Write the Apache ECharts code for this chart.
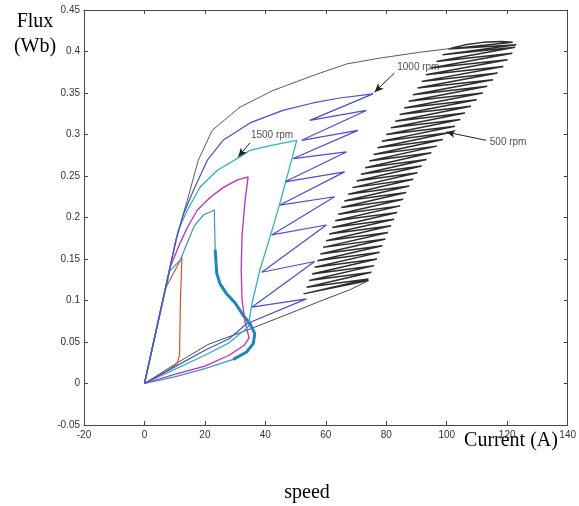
<!DOCTYPE html>
<html>
<head>
<meta charset="utf-8">
<script src="https://cdn.jsdelivr.net/npm/echarts/dist/echarts.min.js"></script>
<style>
  body { margin: 0; background: #fff; }
  #chart { width: 579px; height: 506px; }
</style>
</head>
<body>
<div id="chart"></div>
<script>
// axis ticks
var xTicks = [-20, 0, 20, 40, 60, 80, 100, 120, 140];
var yTicks = [-0.05, 0, 0.05, 0.1, 0.15, 0.2, 0.25, 0.3, 0.35, 0.4, 0.45];

// 500 rpm (black): lower line, hatched chopping band, tip, return arc
var lower500 = [[0, 0], [10, 0.023], [21, 0.047], [33, 0.063], [45, 0.080], [58, 0.099], [68, 0.113], [74.1, 0.124]];
var bandLeft500 = [[52.6, 0.108], [53.6, 0.116], [54.5, 0.124], [55.4, 0.132], [56.3, 0.140], [57.2, 0.148],
  [58.2, 0.156], [59.1, 0.164], [60.1, 0.172], [61.1, 0.180], [62.1, 0.188], [63.1, 0.196], [64.1, 0.204],
  [65.1, 0.212], [66.1, 0.220], [67.4, 0.228], [68.8, 0.236], [70.2, 0.244], [71.6, 0.252], [73.0, 0.260],
  [74.4, 0.268], [75.8, 0.276], [77.1, 0.284], [78.5, 0.292], [80.0, 0.300], [81.5, 0.308], [83.0, 0.316],
  [84.4, 0.324], [85.9, 0.332], [87.4, 0.340], [88.8, 0.348], [90.3, 0.356], [91.7, 0.364], [93.1, 0.372],
  [94.7, 0.380], [96.6, 0.388], [98.6, 0.396], [100.5, 0.403]];
var bandRight500 = [[74.1, 0.126], [75.1, 0.134], [76.0, 0.142], [76.9, 0.150], [77.8, 0.158], [78.7, 0.166],
  [79.7, 0.174], [80.6, 0.182], [81.6, 0.190], [82.6, 0.198], [83.6, 0.206], [84.6, 0.214], [85.6, 0.222],
  [86.6, 0.230], [87.6, 0.238], [88.9, 0.246], [90.3, 0.254], [91.7, 0.262], [93.3, 0.270], [94.9, 0.278],
  [96.7, 0.286], [98.7, 0.294], [100.7, 0.302], [102.7, 0.310], [104.5, 0.318], [106.0, 0.326], [108.0, 0.334],
  [109.9, 0.342], [111.9, 0.350], [113.4, 0.358], [115.3, 0.366], [116.8, 0.374], [118.7, 0.382], [120.1, 0.390],
  [121.7, 0.398], [122.6, 0.405], [123.0, 0.408], [121.8, 0.411]];
var tip500 = [[118, 0.412], [112, 0.411], [106, 0.408], [101.5, 0.404]];
var arc500 = [[101.5, 0.404], [99.8, 0.403], [90.9, 0.399], [77.8, 0.392], [66.9, 0.385], [55.7, 0.371], [42.5, 0.353],
  [31.6, 0.333], [22.4, 0.305], [17.8, 0.269], [14.2, 0.221], [10.5, 0.175], [0, 0]];

// 1000 rpm (blue)
var lower1000 = [[0, 0], [10, 0.020], [20, 0.040], [28, 0.054]];
var zigLeft1000 = [[33.8, 0.072], [35.5, 0.092], [38.8, 0.134], [42.1, 0.179], [44.8, 0.215], [46.5, 0.243],
  [49.2, 0.271], [52.0, 0.293], [54.7, 0.317]];
var zigRight1000 = [[53.6, 0.102], [56.3, 0.147], [60.2, 0.191], [62.9, 0.225], [66.2, 0.255], [66.8, 0.279],
  [70.6, 0.305], [73.4, 0.329], [75.6, 0.349]];
var arc1000 = [[64.6, 0.344], [55.7, 0.338], [45.8, 0.329], [34.9, 0.314], [26.0, 0.293], [20.8, 0.269],
  [16.1, 0.232], [12.9, 0.204], [10.5, 0.173], [0, 0]];

// 1500 rpm (cyan)
var lower1500 = [[0, 0], [10, 0.017], [20, 0.034], [28, 0.049], [34.3, 0.068]];
var rise1500 = [[35.6, 0.097], [38.2, 0.137], [41.5, 0.176], [44.8, 0.217], [50.4, 0.293]];
var arc1500 = [[42.0, 0.287], [34.9, 0.281], [31.6, 0.273], [24.1, 0.257], [18.5, 0.237], [14.2, 0.209],
  [11.2, 0.185], [0, 0]];

// magenta
var lowerMag = [[0, 0], [10, 0.011], [20, 0.021], [28, 0.034], [33, 0.046], [34.6, 0.055]];
var riseMag = [[33.3, 0.074], [32.3, 0.100], [32.0, 0.137], [32.3, 0.179], [33.3, 0.221], [34.3, 0.249]];
var arcMag = [[30.6, 0.245], [26.0, 0.236], [21.7, 0.224], [17.5, 0.209], [14.2, 0.188], [11.5, 0.167],
  [8.4, 0.139], [0, 0]];

// teal (thick bulge)
var lowerTeal = [[0, 0], [10, 0.008], [20, 0.018], [29.4, 0.029], [33.8, 0.038], [36.0, 0.048], [36.5, 0.060]];
var riseTeal = [[34.9, 0.072], [32.7, 0.082], [30.0, 0.097], [27.2, 0.108], [25.0, 0.120], [23.9, 0.133],
  [23.4, 0.161], [23.1, 0.209]];
var arcTeal = [[19.5, 0.203], [16.5, 0.190], [14.1, 0.169], [11.9, 0.149], [8.3, 0.135], [0, 0]];

// orange
var orangeLoop = [[0, 0], [7.9, 0.016], [10.8, 0.024], [11.6, 0.034], [11.9, 0.100], [12.4, 0.152], [7.0, 0.115], [0, 0]];

// annotations
var labelNames = ['1000 rpm', '1500 rpm', '500 rpm'];
var labelPos = [[90.6, 0.381], [42.2, 0.299], [120.3, 0.291]];
var arrowFrom = [[82.7, 0.374], [34.9, 0.290], [113.0, 0.293]];
var arrowTo = [[76.1, 0.351], [31.0, 0.273], [99.8, 0.303]];

function zigzag(a, b) {
  var out = [];
  for (var i = 0; i < a.length; i++) {
    out.push(a[i]);
    out.push(b[i]);
  }
  return out;
}

var band500 = [lower500[lower500.length - 1]].concat(zigzag(bandLeft500, bandRight500), tip500);
var path1000 = lower1000.concat(zigzag(zigLeft1000, zigRight1000), arc1000);
var path1500 = lower1500.concat(rise1500, arc1500);
var pathMag = lowerMag.concat(riseMag, arcMag);
var pathTeal = lowerTeal.concat(riseTeal, arcTeal);
var thickTeal = lowerTeal.slice(3).concat(riseTeal.slice(0, 7));

function lineSeries(name, data, color, width) {
  return {
    name: name,
    type: 'line',
    data: data,
    symbol: 'none',
    smooth: false,
    silent: true,
    lineStyle: { color: color, width: width }
  };
}

var axisColor = '#474747';
var labelFont = { fontSize: 10, color: '#333', fontFamily: 'Liberation Sans' };

var option = {
  animation: false,
  backgroundColor: '#fff',
  grid: { left: 84, right: 10, top: 10, bottom: 81 },
  xAxis: [{
    type: 'value', min: xTicks[0], max: xTicks[xTicks.length - 1], interval: 20,
    axisLine: { onZero: false, lineStyle: { color: axisColor } },
    axisTick: { inside: true, length: 4, lineStyle: { color: axisColor } },
    axisLabel: Object.assign({ margin: 5 }, labelFont),
    splitLine: { show: false }
  }, {
    type: 'value', position: 'top', min: xTicks[0], max: xTicks[xTicks.length - 1], interval: 20,
    axisLine: { onZero: false, lineStyle: { color: axisColor } },
    axisTick: { inside: true, length: 4, lineStyle: { color: axisColor } },
    axisLabel: { show: false },
    splitLine: { show: false }
  }],
  yAxis: [{
    type: 'value', min: yTicks[0], max: yTicks[yTicks.length - 1], interval: 0.05,
    axisLine: { show: true, onZero: false, lineStyle: { color: axisColor } },
    axisTick: { show: true, inside: true, length: 4, lineStyle: { color: axisColor } },
    axisLabel: Object.assign({ margin: 4 }, labelFont),
    splitLine: { show: false }
  }, {
    type: 'value', position: 'right', min: yTicks[0], max: yTicks[yTicks.length - 1], interval: 0.05,
    axisLine: { show: true, onZero: false, lineStyle: { color: axisColor } },
    axisTick: { show: true, inside: true, length: 4, lineStyle: { color: axisColor } },
    axisLabel: { show: false },
    splitLine: { show: false }
  }],
  series: [
    lineSeries('500 rpm band', band500, '#2e2e2e', 1.5),
    lineSeries('500 rpm lower', lower500, '#4a4a4a', 1),
    lineSeries('500 rpm arc', arc500, '#5a5a5a', 1),
    lineSeries('orange', orangeLoop, '#d2552b', 1.2),
    lineSeries('teal', pathTeal, '#3a96c8', 1.2),
    lineSeries('teal thick', thickTeal, '#1c87bf', 3),
    lineSeries('magenta', pathMag, '#c42cc0', 1.3),
    lineSeries('1500 rpm', path1500, '#2bb8b2', 1.3),
    lineSeries('1000 rpm', path1000, '#4b4bdc', 1.2),
    {
      name: 'labels',
      type: 'scatter',
      symbolSize: 0,
      silent: true,
      data: labelNames.map(function (n, i) { return { name: n, value: labelPos[i] }; }),
      label: {
        show: true, position: 'inside', formatter: '{b}',
        fontSize: 10, color: '#222', fontFamily: 'Liberation Sans'
      },
      markLine: {
        silent: true,
        symbol: ['none', 'arrow'],
        symbolSize: [6, 9],
        label: { show: false },
        lineStyle: { color: '#222', width: 1, type: 'solid' },
        data: arrowFrom.map(function (p, i) { return [{ coord: p }, { coord: arrowTo[i] }]; })
      }
    }
  ],
  graphic: [
    { type: 'text', x: 35, y: 22, style: { text: 'Flux', align: 'center', verticalAlign: 'middle', font: '20px "Liberation Serif"', fill: '#000' } },
    { type: 'text', x: 35, y: 47, style: { text: '(Wb)', align: 'center', verticalAlign: 'middle', font: '20px "Liberation Serif"', fill: '#000' } },
    { type: 'text', x: 511, y: 441, style: { text: 'Current (A)', align: 'center', verticalAlign: 'middle', font: '20px "Liberation Serif"', fill: '#000' } },
    { type: 'text', x: 307, y: 493, style: { text: 'speed', align: 'center', verticalAlign: 'middle', font: '20px "Liberation Serif"', fill: '#000' } }
  ]
};

var myChart = echarts.init(document.getElementById('chart'));
myChart.setOption(option);
</script>
</body>
</html>
